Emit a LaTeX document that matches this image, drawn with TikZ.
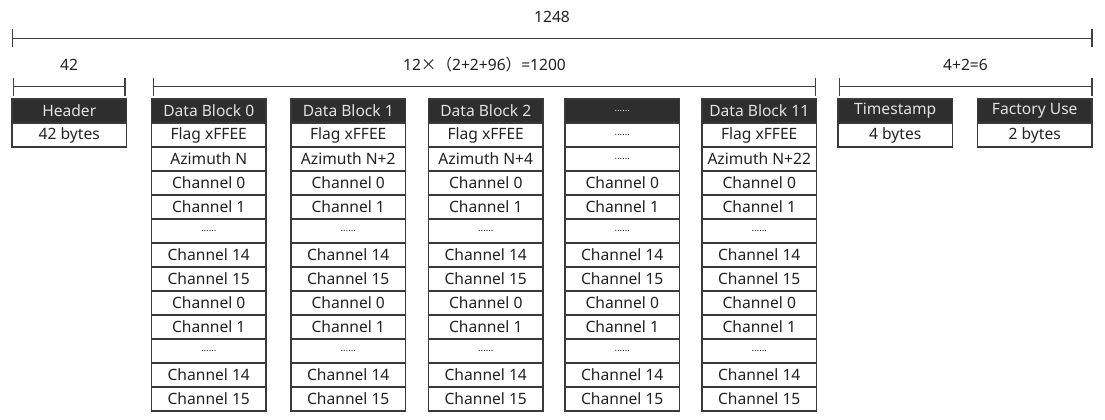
\documentclass[tikz,border=0pt]{standalone}
\usepackage{fontspec}
\setmainfont{Noto Sans}
\newfontfamily\cjk{Noto Sans CJK SC}
\usetikzlibrary{arrows.meta}
\definecolor{boxline}{HTML}{3A3A3A}
\definecolor{headfill}{HTML}{2E2E2E}
\definecolor{headtext}{HTML}{E2E2E2}
\definecolor{dimline}{HTML}{404040}
\definecolor{txt}{HTML}{222222}
\newcommand\dd{{\fontsize{9.5}{10}\selectfont......}}
\begin{document}
\begin{tikzpicture}[x=1pt,y=-1pt,
  cell/.style={draw=boxline,line width=1.1pt,fill=white,minimum width=114.5pt,minimum height=24pt,inner sep=0pt,font=\fontsize{15.6}{17}\selectfont,text=txt},
  headcell/.style={cell,fill=headfill,text=headtext},
  dim/.style={draw=dimline,line width=1.2pt,{Bar[width=18pt]}-{Bar[width=18pt]}},
  dimlabel/.style={font=\fontsize{15.6}{17}\selectfont,text=txt,inner sep=0pt}]
\useasboundingbox (0,0) rectangle (1105,420);
% header and trailer
\node[headcell] (hd) at (69.25,111) {Header};
\node[cell] (hdb) at (69.25,135) {42 bytes};
\node[headcell] (ts) at (895.25,111) {Timestamp};
\node[cell] (tsb) at (895.25,135) {4 bytes};
\node[headcell] (fu) at (1034.75,111) {Factory Use};
\node[cell] (fub) at (1034.75,135) {2 bytes};
% data blocks
\foreach \c/\x/\ha/\hb/\hc in {0/151.5/Data Block 0/Flag xFFEE/Azimuth N,
  1/291/Data Block 1/Flag xFFEE/Azimuth N+2,
  2/428.5/Data Block 2/Flag xFFEE/Azimuth N+4,
  3/565/\dd/\dd/\dd,
  4/702/Data Block 11/Flag xFFEE/Azimuth N+22}
{
  \node[headcell] (b\c-r0) at (\x+57.25,111) {\ha};
  \node[cell] (b\c-r1) at (\x+57.25,135) {\hb};
  \node[cell] (b\c-r2) at (\x+57.25,159) {\hc};
  \foreach \t [count=\i from 3] in {Channel 0,Channel 1,\dd,Channel 14,Channel 15,Channel 0,Channel 1,\dd,Channel 14,Channel 15}
    \node[cell] (b\c-r\i) at (\x+57.25,111+24*\i) {\t};
}
% dimension lines
\coordinate (t0) at (11.5,38.5);
\coordinate (t1) at (1092.5,38.5);
\coordinate (a0) at (12.5,86.5);
\coordinate (a1) at (125.5,86.5);
\coordinate (m0) at (153,86.5);
\coordinate (m1) at (816,86.5);
\coordinate (e0) at (838.5,86.5);
\coordinate (e1) at (1092.5,86.5);
\draw[dim] (t0) -- (t1);
\draw[dim] (a0) -- (a1);
\draw[dim] (m0) -- (m1);
\draw[dim] (e0) -- (e1);
\node[dimlabel] (lt) at (552,17) {1248};
\node[dimlabel] (la) at (69,65) {42};
\node[dimlabel] (lm) at (484.5,65) {12{\cjk ×（}2+2+96{\cjk ）}=1200};
\node[dimlabel] (le) at (965.5,65) {4+2=6};
\end{tikzpicture}
\end{document}
